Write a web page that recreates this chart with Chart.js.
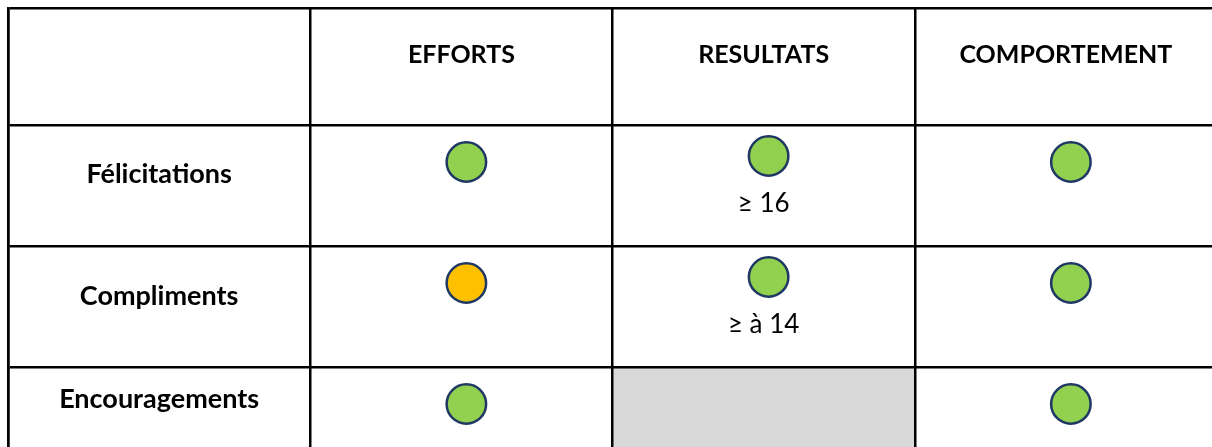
<!DOCTYPE html>
<html><head><meta charset="utf-8">
<script src="https://cdn.jsdelivr.net/npm/chart.js@4/dist/chart.umd.min.js"></script>
<style>
html,body{margin:0;padding:0;background:#fff;overflow:hidden;width:1212px;height:447px}
#wrap{position:absolute;left:0;top:0;width:1230px;height:500px}
</style>
</head><body><div id="wrap"><canvas id="c" width="1230" height="500"></canvas></div>
<script>
// ---- data ----
const columns = ['EFFORTS', 'RESULTATS', 'COMPORTEMENT'];
const rows = ['Félicitations', 'Compliments', 'Encouragements'];
const efforts = ['green', 'orange', 'green'];
const resultats = ['green', 'green', null];
const comportement = ['green', 'green', 'green'];
const resultatsNotes = ['≥ 16', '≥ à 14', ''];

// ---- styles / layout ----
const statusColors = { green: '#92d050', orange: '#ffc000' };
const circleBorder = '#1f3864';
const naColor = '#d9d9d9';
const lineColor = '#000000';
const lineW = 2.5;
const rowPx = 121;               // body row height in px
const headerSpan = 117 / rowPx;  // header row height in row units
const colPx = 302.25;
const circleDx = 5 / colPx;      // circle offset from column centre
const circleDy = 37 / rowPx;     // circle centre from row top
const circleDyNote = 31 / rowPx; // when a note sits under the circle
const headerBaseline = 55;
const labelBaselines = [58, 59, 41];
const noteBaseline = 87;
const headerFont = 'bold 25px Lato, "Open Sans", sans-serif';
const labelFont = 'bold 27px Lato, "Open Sans", sans-serif';
const regFont = '26px Lato, "Open Sans", sans-serif';

const columnStatus = [efforts, resultats, comportement];
const datasets = columnStatus.map((statuses, c) => ({
  label: columns[c],
  data: statuses.map((s, r) => s ? {
    x: c + 1.5 + circleDx,
    y: headerSpan + r + ((c === 1 && resultatsNotes[r]) ? circleDyNote : circleDy),
    status: s
  } : null).filter(p => p),
  pointStyle: 'circle',
  pointRadius: 19.75,
  pointHoverRadius: 19.75,
  pointBorderWidth: lineW,
  pointBackgroundColor: ctx => statusColors[ctx.raw.status],
  pointBorderColor: circleBorder,
  showLine: false,
  clip: false
}));

const tablePlugin = {
  id: 'tablePlugin',
  beforeDraw(chart) {
    const ctx = chart.ctx, xs = chart.scales.x, ys = chart.scales.y;
    ctx.save();
    ctx.fillStyle = naColor;
    resultats.forEach((s, r) => {
      if (s) return;
      const x0 = xs.getPixelForValue(2), x1 = xs.getPixelForValue(3);
      const y0 = ys.getPixelForValue(headerSpan + r), y1 = ys.getPixelForValue(headerSpan + r + 1);
      ctx.fillRect(x0, y0, x1 - x0, y1 - y0);
    });
    ctx.restore();
  },
  afterDatasetsDraw(chart) {
    const ctx = chart.ctx, xs = chart.scales.x, ys = chart.scales.y;
    ctx.save();
    ctx.fillStyle = '#000';
    ctx.textAlign = 'center';
    ctx.textBaseline = 'alphabetic';
    ctx.font = headerFont;
    columns.forEach((t, c) => {
      ctx.fillText(t, xs.getPixelForValue(c + 1.5), ys.getPixelForValue(0) + headerBaseline);
    });
    ctx.font = labelFont;
    rows.forEach((t, r) => {
      ctx.fillText(t, xs.getPixelForValue(0.5), ys.getPixelForValue(headerSpan + r) + labelBaselines[r]);
    });
    ctx.font = regFont;
    resultatsNotes.forEach((t, r) => {
      if (!t) return;
      ctx.fillText(t, xs.getPixelForValue(2.5), ys.getPixelForValue(headerSpan + r) + noteBaseline);
    });
    ctx.restore();
  }
};

const canvasW = 1230, canvasH = 500;
const padL = 8, padT = 8;
const padR = canvasW - (padL + 4 * colPx);
const padB = canvasH - (padT + (headerSpan + 3) * rowPx);

new Chart(document.getElementById('c'), {
  type: 'scatter',
  data: { datasets },
  options: {
    responsive: false,
    animation: false,
    events: [],
    layout: { autoPadding: false, padding: { left: padL, top: padT, right: padR, bottom: padB } },
    plugins: { legend: { display: false }, tooltip: { enabled: false } },
    scales: {
      x: {
        type: 'linear', min: 0, max: 4,
        afterBuildTicks: s => { s.ticks = [0, 1, 2, 3, 4].map(v => ({ value: v })); },
        ticks: { display: false },
        grid: { color: lineColor, lineWidth: lineW, drawTicks: false },
        border: { display: true, color: lineColor, width: lineW }
      },
      y: {
        type: 'linear', reverse: true, min: 0, max: headerSpan + 3,
        afterBuildTicks: s => { s.ticks = [0, 1, 2, 3].map(v => ({ value: headerSpan + v })).concat([{ value: 0 }]); },
        ticks: { display: false },
        grid: { color: lineColor, lineWidth: lineW, drawTicks: false },
        border: { display: true, color: lineColor, width: lineW }
      }
    }
  },
  plugins: [tablePlugin]
});
</script>
</body></html>
